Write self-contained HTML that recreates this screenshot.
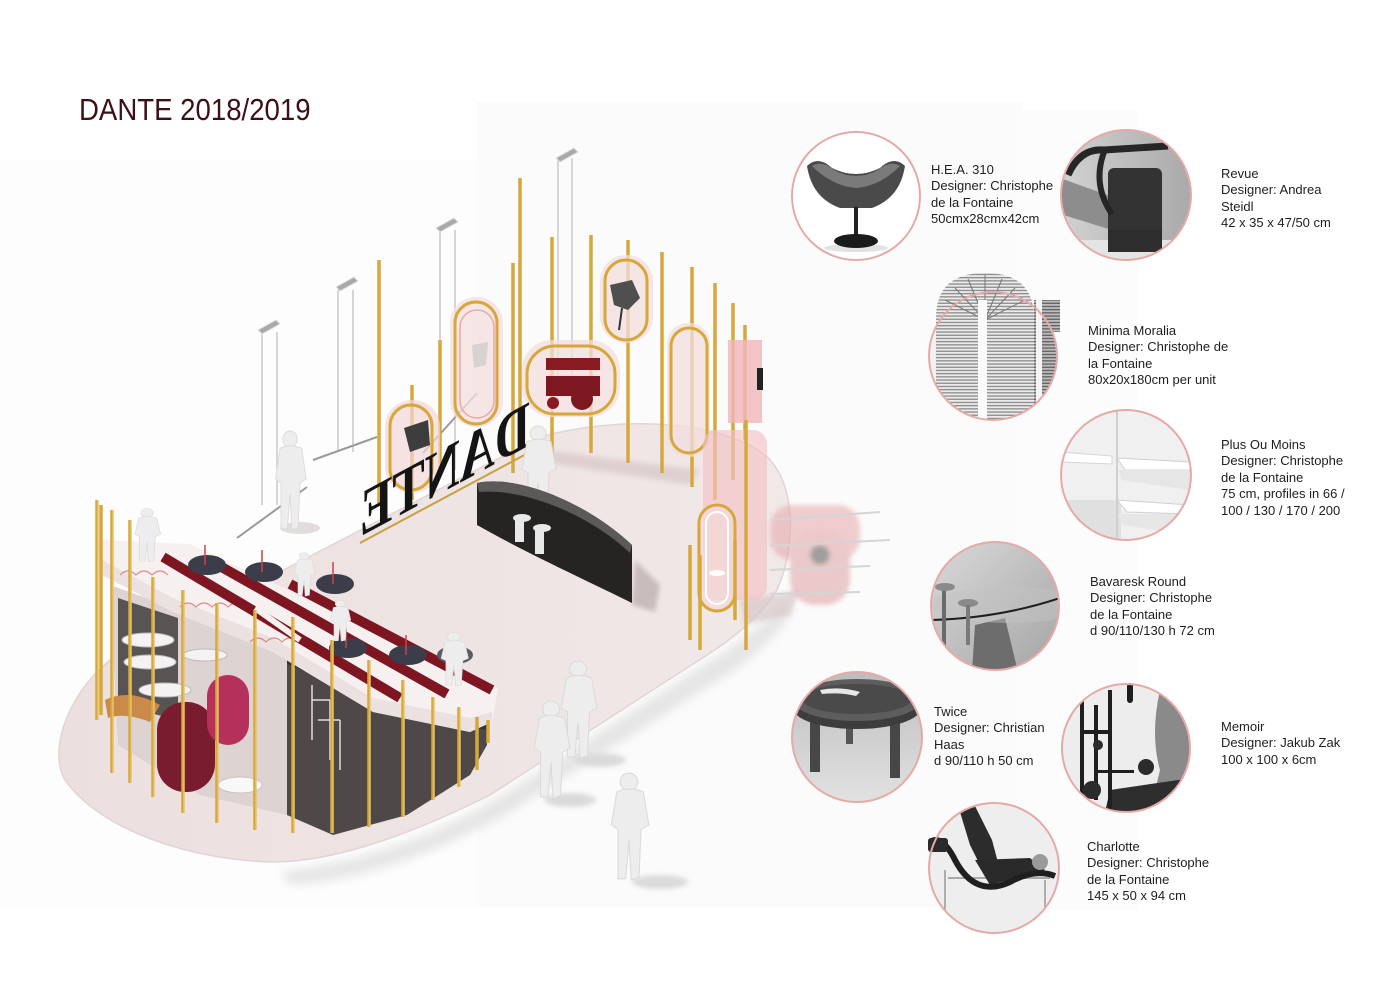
<!DOCTYPE html>
<html><head><meta charset="utf-8">
<style>
html,body{margin:0;padding:0;background:#fff;}
#c{position:relative;width:1400px;height:988px;overflow:hidden;background:#fff;font-family:"Liberation Sans",Arial,sans-serif;}
svg{position:absolute;left:0;top:0;}
.t{position:absolute;font-size:13px;line-height:16.4px;color:#1e1e1e;white-space:nowrap;}
.title{position:absolute;left:79px;top:94px;font-size:31px;line-height:31px;color:#3d1016;transform:scaleX(0.89);transform-origin:0 0;white-space:nowrap;}
</style></head><body><div id="c">
<svg width="1400" height="988" viewBox="0 0 1400 988">
<defs>
<filter id="bl" x="-20%" y="-20%" width="140%" height="140%"><feGaussianBlur stdDeviation="5"/></filter>
<filter id="bl2" x="-20%" y="-20%" width="140%" height="140%"><feGaussianBlur stdDeviation="2.5"/></filter>
<pattern id="st" width="4" height="3.2" patternUnits="userSpaceOnUse"><rect width="4" height="3.2" fill="#ececec"/><rect y="1.8" width="4" height="1.3" fill="#8a8a8a"/></pattern>
<pattern id="st2" width="4" height="3.2" patternUnits="userSpaceOnUse"><rect width="4" height="3.2" fill="#bdbdbd"/><rect y="1.8" width="4" height="1.3" fill="#5e5e5e"/></pattern>
<linearGradient id="gRev" x1="0" y1="0" x2="1" y2="0"><stop offset="0" stop-color="#d2d2d2"/><stop offset="1" stop-color="#a9a9a9"/></linearGradient>
<linearGradient id="gBav" x1="0" y1="0" x2="1" y2="1"><stop offset="0" stop-color="#dadada"/><stop offset="1" stop-color="#a4a4a4"/></linearGradient>
<linearGradient id="gTw" x1="0" y1="0" x2="0" y2="1"><stop offset="0" stop-color="#bdbdbd"/><stop offset="1" stop-color="#e2e2e2"/></linearGradient>
<linearGradient id="gFl" x1="0" y1="0" x2="1" y2="0"><stop offset="0" stop-color="#ecdfdf"/><stop offset="1" stop-color="#f1e8e8"/></linearGradient>
<linearGradient id="gold" x1="0" y1="0" x2="1" y2="0"><stop offset="0" stop-color="#c9952c"/><stop offset="0.5" stop-color="#f0cd6a"/><stop offset="1" stop-color="#c9952c"/></linearGradient>
<clipPath id="k1"><circle cx="856" cy="196" r="64"/></clipPath>
<clipPath id="k2"><circle cx="1126" cy="195" r="65"/></clipPath>
<clipPath id="k3"><circle cx="993" cy="356" r="64"/><rect x="925" y="262" width="140" height="70"/></clipPath>
<clipPath id="k4"><circle cx="1126" cy="475" r="65"/></clipPath>
<clipPath id="k5"><circle cx="995" cy="606" r="64"/></clipPath>
<clipPath id="k6"><circle cx="857" cy="737" r="65"/></clipPath>
<clipPath id="k7"><circle cx="1126" cy="748" r="64"/></clipPath>
<clipPath id="k8"><circle cx="994" cy="868" r="65"/></clipPath>
<g id="man" fill="#eeeded" stroke="#dcdada" stroke-width="1"><circle cx="20" cy="9" r="8"/><path d="M9,18 Q20,13 33,18 L38,48 L31,52 L29,96 L22,98 L20,62 L17,97 L10,97 L10,52 L4,48 Z"/></g>
</defs>

<!-- faint background panels -->
<rect x="0" y="160" width="477" height="747" fill="#fdfdfd"/>
<rect x="477" y="102" width="545" height="805" fill="#fbfbfb"/>
<rect x="1022" y="110" width="116" height="800" fill="#fcfcfc"/>

<!-- floor shadow -->
<path d="M280,872 C380,858 440,830 495,800 L712,660 C745,638 770,620 785,600 L792,612 C775,640 750,660 722,678 L505,815 C440,850 370,880 290,885 Z" fill="#dcdcdc" filter="url(#bl)" opacity="0.7"/>
<!-- floor -->
<path d="M110,660 L540,437 C620,415 720,420 765,455 C800,485 795,560 773,597 C750,625 730,640 710,653 L490,795 C420,830 340,862 273,862 C190,860 100,830 65,780 C50,755 62,700 110,660 Z" fill="url(#gFl)"/>
<path d="M110,660 L540,437 C620,415 720,420 765,455 C800,485 795,560 773,597 C750,625 730,640 710,653 L490,795 C420,830 340,862 273,862 C190,860 100,830 65,780 C50,755 62,700 110,660 Z" fill="none" stroke="#e2d4d4" stroke-width="1.5"/>
<g fill="#d8c8c8" opacity="0.7" filter="url(#bl2)">
<path d="M545,450 L700,470 L690,485 L540,462Z"/>
<path d="M740,600 L800,590 L790,615 L745,625Z"/>
</g>

<!-- hanging lights -->
<g stroke="#bdbdbd" stroke-width="1.2" fill="none">
<path d="M262,332V505 M277,332V505 M338,290V452 M353,290V452 M440,230V470 M455,230V470 M558,158V400 M572,158V400"/>
</g>
<g fill="#a9a9a9" stroke="#e0e0e0" stroke-width="1">
<path d="M258,330 L276,320 L280,324 L262,334Z"/>
<path d="M336,287 L354,277 L358,281 L340,291Z"/>
<path d="M436,228 L454,218 L458,222 L440,232Z"/>
<path d="M556,158 L574,148 L578,152 L560,162Z"/>
</g>
<g stroke="#9a9a9a" stroke-width="2">
<line x1="237" y1="538" x2="307" y2="487"/>
<line x1="313" y1="460" x2="377" y2="437"/>
<line x1="423" y1="453" x2="477" y2="393"/>
</g>

<!-- back poles -->
<g stroke="#d6a83c" stroke-width="3.5" fill="none">
<path d="M379,260V503 M412,385V500 M440,340V470 M513,263V473 M520,178V430 M552,237V465 M591,235V453 M628,240V463 M662,252V473 M692,267V487 M715,283V500 M733,303V480 M745,325V440"/>
</g>

<!-- display frames -->
<g>
<rect x="385" y="400" width="55" height="93" rx="27" fill="#f2d6d6" opacity="0.7"/>
<rect x="390" y="405" width="42" height="85" rx="21" fill="none" stroke="#d6a83c" stroke-width="3"/>
<path d="M404,428 L428,420 L430,445 L410,452Z" fill="#3d3d3d"/>
<rect x="450" y="297" width="53" height="130" rx="26" fill="#f3dede" opacity="0.75"/>
<rect x="455" y="302" width="42" height="122" rx="21" fill="none" stroke="#d6a83c" stroke-width="3"/>
<rect x="460" y="310" width="34" height="108" rx="17" fill="none" stroke="#e9a9a9" stroke-width="1.5"/>
<path d="M472,345 L488,342 L486,365 L474,368Z" fill="#d8d2d2"/>
<rect x="522" y="340" width="98" height="77" rx="30" fill="#f3dede" opacity="0.75"/>
<rect x="527" y="346" width="88" height="68" rx="28" fill="none" stroke="#d6a83c" stroke-width="3"/>
<rect x="546" y="358" width="54" height="12" fill="#8a1a22"/>
<rect x="546" y="376" width="54" height="20" fill="#7e1820"/>
<circle cx="553" cy="403" r="6" fill="#8a1a22"/>
<circle cx="582" cy="399" r="11" fill="#7e1820"/>
<rect x="600" y="255" width="53" height="88" rx="26" fill="#f3dede" opacity="0.75"/>
<rect x="605" y="260" width="42" height="80" rx="21" fill="none" stroke="#d6a83c" stroke-width="3"/>
<path d="M610,285 L632,280 L640,298 L628,310 L614,305Z" fill="#4f4f4f"/>
<line x1="622" y1="308" x2="619" y2="330" stroke="#333" stroke-width="2"/>
<rect x="667" y="323" width="43" height="134" rx="21" fill="#f3dede" opacity="0.75"/>
<rect x="671" y="328" width="36" height="125" rx="18" fill="none" stroke="#d6a83c" stroke-width="3"/>
<rect x="728" y="340" width="34" height="83" fill="#f0b5ba" opacity="0.8"/>
<rect x="757" y="368" width="6" height="22" fill="#222"/>
<rect x="703" y="430" width="64" height="170" rx="14" fill="#f2c2c4" opacity="0.65"/>
<rect x="697" y="503" width="40" height="110" rx="20" fill="#f4d8d8" opacity="0.7"/>
<rect x="699" y="505" width="36" height="106" rx="18" fill="none" stroke="#d6a83c" stroke-width="3"/>
<rect x="706" y="512" width="22" height="92" rx="11" fill="none" stroke="#ffffff" stroke-width="2"/>
<ellipse cx="717" cy="573" rx="8" ry="3" fill="#fff"/>
</g>
<g opacity="0.55" filter="url(#bl2)">
<rect x="770" y="505" width="90" height="55" rx="22" fill="#e6a7a8"/>
<rect x="790" y="530" width="60" height="75" rx="25" fill="#dfa0a2"/>
<circle cx="820" cy="555" r="10" fill="#555"/>
</g>
<g stroke="#d5d5d5" stroke-width="2"><line x1="770" y1="520" x2="880" y2="512"/><line x1="770" y1="546" x2="890" y2="540"/><line x1="770" y1="570" x2="870" y2="566"/><line x1="770" y1="594" x2="860" y2="592"/></g>
<g stroke="#d6a83c" stroke-width="3.5"><path d="M690,545V640 M700,555V650 M746,420V650 M735,540V620"/></g>

<!-- DANTE letters -->
<line x1="360" y1="543" x2="530" y2="452" stroke="#c9a040" stroke-width="2"/>
<text transform="matrix(-1,0.54,0,1,530,445)" font-family="Liberation Serif, serif" font-weight="bold" font-size="66" textLength="170" lengthAdjust="spacingAndGlyphs" fill="#141414">DANTE</text>

<ellipse cx="300" cy="528" rx="20" ry="6" fill="#d9d4d4" opacity="0.8"/>
<use href="#man" transform="translate(272,430) scale(0.9,1.02)"/>
<ellipse cx="545" cy="512" rx="18" ry="6" fill="#d9c9c9" opacity="0.7"/>
<use href="#man" transform="translate(518,425) scale(1.0,0.92)"/>

<!-- bench -->
<path d="M635,560 L660,585 L655,612 L632,605Z" fill="#c9bcbc" filter="url(#bl2)"/>
<path d="M477,483 C520,474 590,505 632,545 L632,603 C590,582 530,555 477,525 Z" fill="#262323"/>
<path d="M477,483 C520,474 590,505 632,545 L630,553 C590,515 525,488 479,492 Z" fill="#5c5959"/>
<g fill="#e8e8e8"><rect x="515" y="520" width="9" height="22"/><rect x="535" y="530" width="9" height="24"/><ellipse cx="522" cy="518" rx="9" ry="4"/><ellipse cx="542" cy="528" rx="9" ry="4"/></g>

<!-- bar interior -->
<path d="M110,585 L287,648 L287,815 L200,795 L118,745 Z" fill="#ddd3d3"/>
<path d="M118,598 L178,618 L178,720 L118,705 Z" fill="#595454"/>
<g fill="#f4f2f2" stroke="#bbb" stroke-width="1"><ellipse cx="148" cy="640" rx="26" ry="7"/><ellipse cx="150" cy="662" rx="26" ry="7"/><ellipse cx="165" cy="690" rx="26" ry="7"/><ellipse cx="205" cy="655" rx="22" ry="6"/></g>
<path d="M105,700 Q130,688 160,705 L150,722 Q125,712 108,718Z" fill="#c98a4a"/>
<rect x="157" y="702" width="58" height="90" rx="28" fill="#7a1c30"/>
<rect x="207" y="675" width="42" height="70" rx="21" fill="#b5305a"/>
<ellipse cx="240" cy="785" rx="22" ry="8" fill="#f8f8f8" stroke="#d0c0c0"/>
<path d="M305,782 L322,778 L324,795 L308,800Z" fill="#3d3d3d"/>
<path d="M287,648 L333,667 L373,693 L487,716 L487,745 L470,775 L407,815 L333,835 L287,815 Z" fill="#4e4848"/>
<path d="M287,648 L333,667 L373,693 L487,716 L487,730 L373,708 L333,683 L287,664 Z" fill="#3a3535"/>
<g stroke="#ddd" stroke-width="1.5" fill="none"><path d="M312,685 V740 M312,700 H330 M318,720 H340 M330,700 V760 M340,720 V770"/></g>
<path d="M98,540 L190,544 L498,688 L492,722 L470,732 L373,712 L273,652 L173,612 L102,575 Z" fill="#f7f0f0"/>
<path d="M102,560 L173,598 L273,638 L373,698 L470,718 L492,712 L492,722 L470,732 L373,712 L273,652 L173,612 L102,575 Z" fill="#ebe1e1"/>
<g stroke="#c44" stroke-width="1.2" fill="none" opacity="0.6"><path d="M120,575 q8,-8 16,0 q8,-8 16,0 q8,-8 16,0 M180,607 q8,-8 16,0 q8,-8 16,0 q8,-8 16,0 q8,-8 16,0 M250,642 q8,-8 16,0 q8,-8 16,0 q8,-8 16,0 q8,-8 16,0"/></g>
<g stroke="#7d1620" stroke-width="10">
<line x1="163" y1="557" x2="400" y2="698"/>
<line x1="218" y1="565" x2="447" y2="694"/>
<line x1="290" y1="584" x2="492" y2="690"/>
</g>
<g stroke="#f7f0f0" stroke-width="6"><line x1="255" y1="608" x2="300" y2="640"/></g>
<g fill="#3b3d4a">
<ellipse cx="207" cy="565" rx="19" ry="10"/><ellipse cx="264" cy="572" rx="19" ry="10"/><ellipse cx="335" cy="584" rx="19" ry="10"/>
<ellipse cx="348" cy="648" rx="19" ry="10"/><ellipse cx="408" cy="655" rx="19" ry="10"/><ellipse cx="455" cy="655" rx="18" ry="9" fill="#5a5a62"/>
</g>
<g stroke="#c44" stroke-width="1.5"><path d="M205,545V565 M262,550V572 M333,562V584 M346,628V648 M406,635V655 M453,635V655"/></g>
<use href="#man" transform="translate(132,508) scale(0.75,0.55)"/>
<use href="#man" transform="translate(292,552) scale(0.6,0.45)"/>
<use href="#man" transform="translate(328,600) scale(0.6,0.42)"/>
<use href="#man" transform="translate(438,632) scale(0.8,0.55)"/>
<g stroke="#d6a83c" stroke-width="3.5" fill="none">
<path d="M97,500V720 M101,505V715 M112,510V773 M130,520V783 M153,577V797 M183,590V813 M217,603V823 M255,610V830 M293,617V833 M332,640V833 M369,660V827 M403,680V817 M433,697V800 M459,707V787 M477,717V770 M488,720V743"/>
</g>
<g stroke="#f2d27a" stroke-width="1" fill="none">
<path d="M98,500V720 M113,510V773 M131,520V783 M154,577V797 M184,590V813 M218,603V823 M256,610V830 M294,617V833 M333,640V833 M370,660V827 M404,680V817 M434,697V800 M460,707V787"/>
</g>

<!-- front people -->
<g fill="#dadada" filter="url(#bl2)"><ellipse cx="600" cy="760" rx="26" ry="7"/><ellipse cx="570" cy="800" rx="26" ry="7"/><ellipse cx="660" cy="882" rx="28" ry="7"/></g>
<use href="#man" transform="translate(557,660) scale(1.05,1.0)"/>
<use href="#man" transform="translate(530,700) scale(1.05,1.0)"/>
<use href="#man" transform="translate(607,772) scale(1.1,1.1)"/>

<!-- product circles -->
<circle cx="856" cy="196" r="64" fill="#fff"/>
<g clip-path="url(#k1)">
<ellipse cx="856" cy="248" rx="32" ry="4" fill="#e2e2e2"/>
<path d="M807,166 Q818,155 832,168 Q856,180 880,168 Q894,155 905,166 Q900,198 872,208 L840,208 Q812,198 807,166Z" fill="#4a4a4a"/>
<path d="M812,166 Q822,160 834,170 Q856,182 878,170 Q890,160 900,166 Q880,186 856,188 Q832,186 812,166Z" fill="#7a7a7a"/>
<rect x="854" y="207" width="4" height="32" fill="#222"/>
<ellipse cx="856" cy="241" rx="22" ry="7" fill="#1b1b1b"/>
</g>
<circle cx="856" cy="196" r="64" fill="none" stroke="#e6aaa6" stroke-width="2"/>
<g clip-path="url(#k2)">
<rect x="1060" y="129" width="133" height="132" fill="url(#gRev)"/>
<path d="M1060,178 L1110,196 L1112,230 L1060,214Z" fill="#8d8d8d"/>
<rect x="1108" y="168" width="54" height="100" rx="6" fill="#333"/>
<path d="M1068,175 Q1080,148 1104,150 L1168,146" stroke="#262626" stroke-width="7" fill="none"/>
<path d="M1104,152 Q1092,185 1112,214" stroke="#262626" stroke-width="6" fill="none"/>
<rect x="1060" y="240" width="133" height="20" fill="#e4e4e4"/>
<rect x="1108" y="230" width="54" height="22" fill="#2d2d2d"/>
</g>
<circle cx="1126" cy="195" r="65" fill="none" stroke="#e6aaa6" stroke-width="2"/>
<circle cx="993" cy="356" r="64" fill="#f1f1f1"/>
<g clip-path="url(#k3)">
<path d="M1034,300 L1060,300 L1060,420 L1034,420Z" fill="url(#st2)"/>
<path d="M936,420 L936,318 Q936,273 985,273 Q1034,273 1034,318 L1034,420Z" fill="url(#st)"/>
<g stroke="#777" stroke-width="1"><path d="M985,320 L945,300 M985,320 L955,288 M985,320 L968,279 M985,320 L985,275 M985,320 L1002,279 M985,320 L1015,288 M985,320 L1025,300"/></g>
<rect x="978" y="300" width="9" height="122" fill="#fafafa"/>
<rect x="1036" y="300" width="6" height="122" fill="#f4f4f4"/>
</g>
<circle cx="993" cy="356" r="64" fill="none" stroke="#e6aaa6" stroke-width="2"/>
<circle cx="1126" cy="475" r="65" fill="#f0f0f0"/>
<g clip-path="url(#k4)">
<rect x="1061" y="500" width="60" height="45" fill="#e0e0e0"/>
<line x1="1117" y1="410" x2="1117" y2="540" stroke="#cfcfcf" stroke-width="2"/>
<path d="M1117,458 L1190,462 L1190,470 L1125,470Z" fill="#fff" stroke="#d0d0d0"/>
<path d="M1117,500 L1190,505 L1190,514 L1127,512Z" fill="#fff" stroke="#d0d0d0"/>
<path d="M1060,452 L1112,456 L1112,464 L1060,462Z" fill="#fff" stroke="#d6d6d6"/>
<path d="M1118,470 L1190,470 L1190,490 L1122,480Z" fill="#e6e6e6"/>
<path d="M1118,514 L1190,514 L1190,535 L1122,525Z" fill="#e6e6e6"/>
</g>
<circle cx="1126" cy="475" r="65" fill="none" stroke="#e6aaa6" stroke-width="2"/>
<g clip-path="url(#k5)">
<rect x="930" y="541" width="131" height="131" fill="url(#gBav)"/>
<path d="M975,625 L1005,618 L1018,672 L972,672Z" fill="#6d6d6d"/>
<ellipse cx="1010" cy="605" rx="78" ry="18" fill="#c4c4c4" opacity="0.45"/>
<path d="M932,620 Q1000,618 1060,598" stroke="#1e1e1e" stroke-width="2" fill="none"/>
<rect x="942" y="588" width="4" height="84" fill="#6a6a6a"/>
<ellipse cx="945" cy="587" rx="10" ry="4" fill="#8a8a8a"/>
<ellipse cx="968" cy="603" rx="10" ry="4" fill="#8a8a8a"/>
<rect x="966" y="605" width="4" height="40" fill="#7a7a7a"/>
</g>
<circle cx="995" cy="606" r="64" fill="none" stroke="#e6aaa6" stroke-width="2"/>
<g clip-path="url(#k6)">
<rect x="792" y="672" width="131" height="131" fill="url(#gTw)"/>
<rect x="810" y="712" width="10" height="60" fill="#474747"/>
<rect x="890" y="712" width="10" height="66" fill="#474747"/>
<rect x="846" y="712" width="7" height="32" fill="#555"/>
<ellipse cx="857" cy="708" rx="64" ry="21" fill="#3d3d3d"/>
<ellipse cx="857" cy="700" rx="64" ry="21" fill="#5d5d5d"/>
<ellipse cx="857" cy="699" rx="55" ry="15" fill="#4a4a4a"/>
<path d="M820,690 Q840,686 860,692 L856,696 Q840,692 822,694Z" fill="#e8e8e8"/>
</g>
<circle cx="857" cy="737" r="65" fill="none" stroke="#e6aaa6" stroke-width="2"/>
<circle cx="1126" cy="748" r="64" fill="#ededed"/>
<g clip-path="url(#k7)">
<path d="M1160,690 L1195,700 L1195,812 L1150,812 L1160,770 Q1150,735 1160,690Z" fill="#8a8a8a"/>
<path d="M1110,790 L1192,778 L1192,812 L1105,812Z" fill="#2e2e2e"/>
<g fill="#1f1f1f"><rect x="1080" y="700" width="4" height="108"/><rect x="1094" y="705" width="4" height="95"/><rect x="1108" y="690" width="4" height="120"/><rect x="1080" y="730" width="30" height="4"/><rect x="1094" y="770" width="40" height="3"/></g>
<circle cx="1098" cy="745" r="5" fill="#2b2b2b"/><circle cx="1092" cy="790" r="9" fill="#2b2b2b"/><circle cx="1146" cy="767" r="8" fill="#2b2b2b"/>
</g>
<rect x="1127" y="683" width="6" height="20" rx="3" fill="#1f1f1f"/>
<circle cx="1126" cy="748" r="64" fill="none" stroke="#e6aaa6" stroke-width="2"/>
<circle cx="994" cy="868" r="65" fill="#eeeeee"/>
<g clip-path="url(#k8)">
<path d="M948,878 L1050,878" stroke="#aaa" stroke-width="2"/>
<path d="M945,870 V930 M1045,880 V930" stroke="#999" stroke-width="1.5"/>
<path d="M960,812 L975,806 L992,840 L1000,870 L985,875 L970,845Z" fill="#2c2c2c"/>
<path d="M975,860 L1030,858 L1045,870 L990,885Z" fill="#2a2a2a"/>
<circle cx="1040" cy="862" r="8" fill="#9a9a9a"/>
</g>
<path d="M930,842 Q942,834 955,860 Q975,898 1010,882 Q1035,868 1055,876" stroke="#1f1f1f" stroke-width="6" fill="none"/>
<rect x="928" y="838" width="20" height="14" rx="3" fill="#2a2a2a"/>
<circle cx="994" cy="868" r="65" fill="none" stroke="#e6aaa6" stroke-width="2"/>
</svg>

<div class="title">DANTE 2018/2019</div>
<div class="t" style="left:931px;top:162px">H.E.A. 310<br>Designer: Christophe<br>de la Fontaine<br>50cmx28cmx42cm</div>
<div class="t" style="left:1221px;top:166px">Revue<br>Designer: Andrea<br>Steidl<br>42 x 35 x 47/50 cm</div>
<div class="t" style="left:1088px;top:323px">Minima Moralia<br>Designer: Christophe de<br>la Fontaine<br>80x20x180cm per unit</div>
<div class="t" style="left:1221px;top:437px">Plus Ou Moins<br>Designer: Christophe<br>de la Fontaine<br>75 cm, profiles in 66 /<br>100 / 130 / 170 / 200</div>
<div class="t" style="left:1090px;top:574px">Bavaresk Round<br>Designer: Christophe<br>de la Fontaine<br>d 90/110/130 h 72 cm</div>
<div class="t" style="left:934px;top:704px">Twice<br>Designer: Christian<br>Haas<br>d 90/110 h 50 cm</div>
<div class="t" style="left:1221px;top:719px">Memoir<br>Designer: Jakub Zak<br>100 x 100 x 6cm</div>
<div class="t" style="left:1087px;top:839px">Charlotte<br>Designer: Christophe<br>de la Fontaine<br>145 x 50 x 94 cm</div>
</div></body></html>
